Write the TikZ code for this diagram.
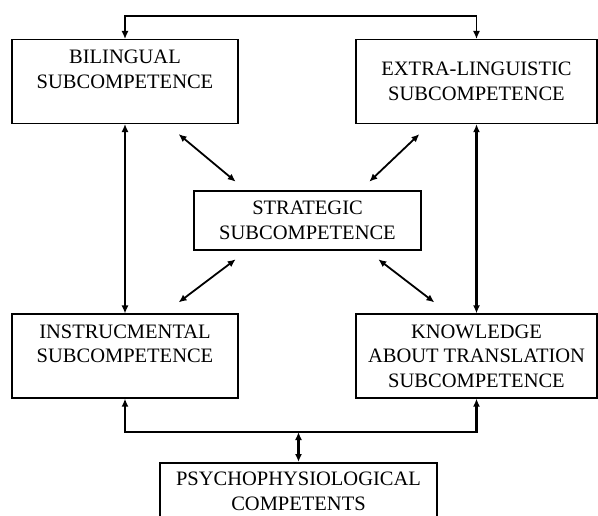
\documentclass[tikz,border=0pt]{standalone}
\usepackage{fontspec}
\setmainfont{Liberation Serif}
\usetikzlibrary{arrows.meta}
\begin{document}
\begin{tikzpicture}[x=1pt,y=-1pt,
    box/.style={draw,line width=1.2pt,align=center,inner sep=0pt,
      font=\fontsize{20.5}{24.5}\selectfont},
    sidebox/.style={box,minimum width=226pt,minimum height=84pt},
    widebox/.style={box,minimum width=241pt,minimum height=84pt},
    tip/.tip={Latex[length=8pt,width=7pt]},
    dbl/.style={tip-tip,line width=1.3pt},
    dblthick/.style={tip-tip,line width=2.4pt}]
    \useasboundingbox (0,0) rectangle (598,515);

    % ボックス
    \node[sidebox] (bil) at (125,81.5) {BILINGUAL\\SUBCOMPETENCE\\~};
    \node[widebox] (extra) at (476.5,81.5) {EXTRA-LINGUISTIC\\SUBCOMPETENCE};
    \node[box,line width=2.6pt,minimum width=227pt,minimum height=59pt]
        (strat) at (307.5,220.5) {STRATEGIC\\SUBCOMPETENCE};
    \node[sidebox] (instr) at (125,356) {INSTRUCMENTAL\\SUBCOMPETENCE\\~};
    \node[widebox] (know) at (476.5,356) {KNOWLEDGE\\ABOUT TRANSLATION\\SUBCOMPETENCE};
    \node[box,line width=2pt,minimum width=277pt,minimum height=57pt]
        (psych) at (298.5,491.5) {PSYCHOPHYSIOLOGICAL\\COMPETENTS};

    % 折れ線の矢印
    \coordinate (topturn) at (300,16);
    \coordinate (botturn) at (300,432);
    \draw[dbl] (bil.north) |- (topturn) -| (extra.north);
    \draw[dblthick] (instr.south) |- (botturn) -| (know.south);
    \draw[dblthick] (psych.north) -- (psych.north |- botturn);

    % 縦の矢印
    \draw[dbl] (bil.south) -- (instr.north);
    \draw[dblthick] (extra.south) -- (know.north);

    % 斜めの矢印
    \draw[dbl,line width=1.8pt] ([xshift=-60pt,yshift=-10pt]bil.south east)
        -- ([xshift=43pt,yshift=8pt]strat.north west);
    \draw[dbl,line width=1.8pt] ([xshift=64pt,yshift=-10pt]extra.south west)
        -- ([xshift=-53pt,yshift=8pt]strat.north east);
    \draw[dbl,line width=1.8pt] ([xshift=43pt,yshift=-8pt]strat.south west)
        -- ([xshift=-60pt,yshift=11pt]instr.north east);
    \draw[dbl,line width=1.8pt] ([xshift=-44pt,yshift=-8pt]strat.south east)
        -- ([xshift=79pt,yshift=11pt]know.north west);
\end{tikzpicture}
\end{document}
